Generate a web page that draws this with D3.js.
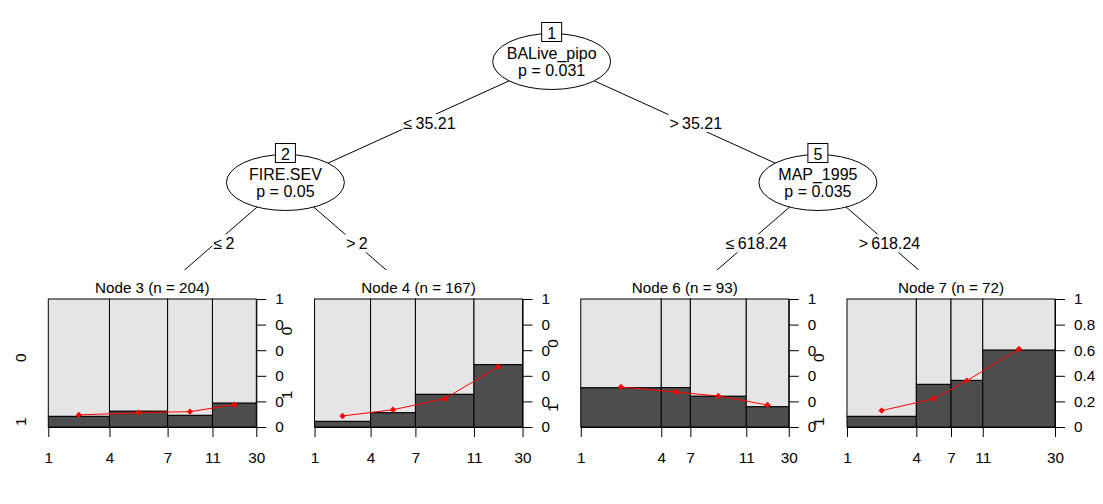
<!DOCTYPE html>
<html><head><meta charset="utf-8">
<script src="https://cdn.jsdelivr.net/npm/d3@7"></script>
<style>
body{margin:0;background:#fff}
text{font-family:"Liberation Sans", Arial, sans-serif; fill:#000}
</style>
</head><body>
<svg id="c" width="1103" height="504"></svg>
<script>
// ---------- data ----------
const leafIds = [3, 4, 6, 7];
const leafN = [204, 167, 93, 72];
const binCounts3 = [60, 57, 44, 43];
const binCounts4 = [45, 36, 47, 39];
const binCounts6 = [36, 13, 25, 19];
const binCounts7 = [24, 12, 11, 25];
const propOne3 = [0.083, 0.123, 0.091, 0.186];
const propOne4 = [0.044, 0.111, 0.255, 0.487];
const propOne6 = [0.306, 0.308, 0.240, 0.158];
const propOne7 = [0.083, 0.333, 0.364, 0.600];
const smooth3 = [0.094, 0.112, 0.120, 0.174];
const smooth4 = [0.086, 0.135, 0.221, 0.471];
const smooth6 = [0.3125, 0.273, 0.242, 0.172];
const smooth7 = [0.128, 0.221, 0.362, 0.609];
const xTickLabels = ["1", "4", "7", "11", "30"];
const yTickValues = [0, 0.2, 0.4, 0.6, 0.8, 1];
const yTickLabelsRounded = ["0", "0", "0", "0", "0", "1"];
const yTickLabelsFull = ["0", "0.2", "0.4", "0.6", "0.8", "1"];
const yLevels = ["1", "0"]; // bottom to top
const innerIds = [1, 2, 5];
const innerVars = ["BALive_pipo", "FIRE.SEV", "MAP_1995"];
const innerP = ["0.031", "0.05", "0.035"];
const edgeFrom = [1, 1, 2, 2, 5, 5];
const edgeTo = [2, 5, 3, 4, 6, 7];
const edgeLabels = ["\u2264\u200935.21", ">\u200935.21", "\u2264\u20092", ">\u20092", "\u2264\u2009618.24", ">\u2009618.24"];

const binCounts = [binCounts3, binCounts4, binCounts6, binCounts7];
const propOne = [propOne3, propOne4, propOne6, propOne7];
const smooth = [smooth3, smooth4, smooth6, smooth7];
const yTickLabelSets = [yTickLabelsRounded, yTickLabelsRounded, yTickLabelsRounded, yTickLabelsFull];

// ---------- layout ----------
const svg = d3.select("#c");
const leafX = d3.scaleLinear().domain([0, 3]).range([152.3, 951]);
const depthY = d3.scaleLinear().domain([0, 1]).range([61.5, 182.5]);
const leafLineY = 298;
const pw = 208, pTop = 299, pBot = 427;

const pos = {};
leafIds.forEach((id, i) => pos[id] = {x: leafX(i), y: leafLineY});
pos[2] = {x: (pos[3].x + pos[4].x) / 2, y: depthY(1)};
pos[5] = {x: (pos[6].x + pos[7].x) / 2, y: depthY(1)};
pos[1] = {x: (pos[2].x + pos[5].x) / 2, y: depthY(0)};

// edges (clipped above terminal panels)
svg.append("clipPath").attr("id", "eclip").append("rect")
  .attr("x", 0).attr("y", 0).attr("width", 1103).attr("height", 270);
const eg = svg.append("g").attr("clip-path", "url(#eclip)");
edgeFrom.forEach((f, i) => {
  const a = pos[f], b = pos[edgeTo[i]];
  eg.append("line").attr("x1", a.x).attr("y1", a.y).attr("x2", b.x).attr("y2", b.y)
    .attr("stroke", "#000").attr("stroke-width", 1);
});
// edge labels
edgeFrom.forEach((f, i) => {
  const a = pos[f], b = pos[edgeTo[i]];
  const top = f === 1;
  const mx = (a.x + b.x) / 2 + (top ? 11 : 5);
  const my = top ? 123 : 243.3;
  const t = svg.append("text").attr("x", mx).attr("y", my + 5.5)
    .attr("text-anchor", "middle").style("font-size", "16px").text(edgeLabels[i]);
  const bb = t.node().getBBox();
  svg.insert("rect", function(){ return t.node(); })
    .attr("x", bb.x - 1).attr("y", my - 9).attr("width", bb.width + 2).attr("height", 18)
    .attr("fill", "#fff");
});
// inner nodes
innerIds.forEach((id, i) => {
  const p = pos[id];
  svg.append("ellipse").attr("cx", p.x).attr("cy", p.y).attr("rx", 59).attr("ry", 28)
    .attr("fill", "#fff").attr("stroke", "#000");
  svg.append("text").attr("x", p.x).attr("y", p.y - 3).attr("text-anchor", "middle")
    .style("font-size", "16px").text(innerVars[i]);
  svg.append("text").attr("x", p.x).attr("y", p.y + 14.5).attr("text-anchor", "middle")
    .style("font-size", "16px").text("p = " + innerP[i]);
  svg.append("rect").attr("x", p.x - 10).attr("y", p.y - 29.5 - 9.5).attr("width", 20).attr("height", 19)
    .attr("fill", "#fff").attr("stroke", "#000");
  svg.append("text").attr("x", p.x).attr("y", p.y - 29.5 + 6.5).attr("text-anchor", "middle")
    .style("font-size", "16px").text(id);
});

// terminal panels
const marker = "M0,-3.2L3.2,0L0,3.2L-3.2,0Z";
leafIds.forEach((id, i) => {
  const cx = leafX(i), left = cx - pw / 2;
  const counts = binCounts[i];
  const cum = [0]; counts.forEach(c => cum.push(cum[cum.length - 1] + c));
  const n = leafN[i];
  const x = d3.scaleLinear().domain([0, n]).range([left, left + pw]);
  const y = d3.scaleLinear().domain([0, 1]).range([pBot, pTop]);
  const g = svg.append("g");
  g.append("text").attr("x", cx).attr("y", 292.5).attr("text-anchor", "middle")
    .style("font-size", "15.2px").text(`Node ${id} (n = ${n})`);
  counts.forEach((c, j) => {
    const p = propOne[i][j];
    g.append("rect").attr("x", x(cum[j])).attr("width", x(cum[j + 1]) - x(cum[j]))
      .attr("y", y(1)).attr("height", y(p) - y(1))
      .attr("fill", "#e5e5e5").attr("stroke", "#000");
    g.append("rect").attr("x", x(cum[j])).attr("width", x(cum[j + 1]) - x(cum[j]))
      .attr("y", y(p)).attr("height", y(0) - y(p))
      .attr("fill", "#4d4d4d").attr("stroke", "#000");
  });
  const pts = counts.map((c, j) => [x((cum[j] + cum[j + 1]) / 2), y(smooth[i][j])]);
  g.append("path").attr("d", d3.line()(pts)).attr("fill", "none").attr("stroke", "#ff0000").attr("stroke-width", 1);
  pts.forEach(pt => g.append("path").attr("transform", `translate(${pt[0]},${pt[1]})`)
    .attr("d", marker).attr("fill", "#ff0000"));
  // x axis
  const xa = g.append("g").attr("transform", `translate(0,${pBot})`)
    .call(d3.axisBottom(x).tickValues(cum).tickFormat((d, k) => xTickLabels[k]).tickSize(10).tickSizeOuter(0).tickPadding(15));
  xa.selectAll("text").style("font-size", "15.3px").style("font-family", "Liberation Sans, Arial, sans-serif");
  // right axis
  const ya = g.append("g").attr("transform", `translate(${left + pw},0)`)
    .call(d3.axisRight(y).tickValues(yTickValues).tickFormat((d, k) => yTickLabelSets[i][k]).tickSize(10).tickSizeOuter(0).tickPadding(9));
  ya.selectAll("text").style("font-size", "15.3px").style("font-family", "Liberation Sans, Arial, sans-serif");
  // left level labels (spineplot rule)
  const p0 = propOne[i][0];
  const yat = (p0 < 0.05 || 1 - p0 < 0.05) ? [0.25, 0.75] : [p0 / 2, (1 + p0) / 2];
  yLevels.forEach((lv, k) => {
    g.append("text").attr("transform", `translate(${left - 28},${y(yat[k])}) rotate(-90)`)
      .attr("text-anchor", "middle").attr("dy", "0.35em").style("font-size", "15.3px").text(lv);
  });
});
</script>
</body></html>
